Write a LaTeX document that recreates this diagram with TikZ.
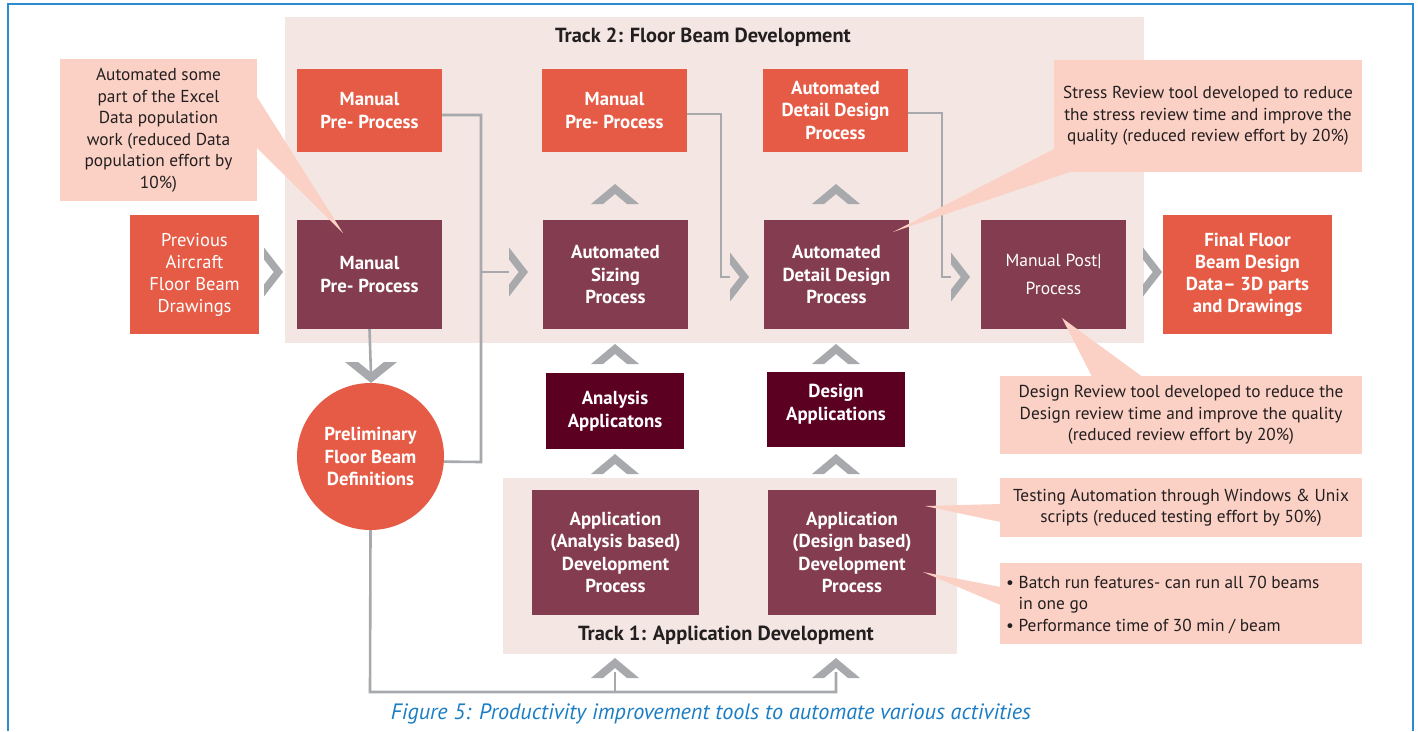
\documentclass[tikz,border=0pt]{standalone}
\usepackage{fontspec}
\setmainfont{PT Sans}
\definecolor{orng}{HTML}{E55B45}
\definecolor{maroon}{HTML}{843D50}
\definecolor{darkred}{HTML}{5C0022}
\definecolor{trackbg}{HTML}{F4E6E3}
\definecolor{callbg}{HTML}{FBD1C5}
\definecolor{cgray}{HTML}{A7A9AC}
\definecolor{txtdark}{HTML}{231F20}
\definecolor{capblue}{HTML}{1B7DC4}
\definecolor{frameblue}{HTML}{2A8BD0}
\tikzset{
  box/.style={inner sep=0pt, align=center, text=white, font=\fontsize{18.8}{22.5}\selectfont\bfseries},
  obox/.style={box, fill=orng},
  mbox/.style={box, fill=maroon},
  dbox/.style={box, fill=darkred},
  boxtext/.style={inner sep=0pt, align=center, text=white, font=\fontsize{18.8}{22.5}\selectfont\bfseries},
  callout/.style={fill=callbg, inner sep=0pt, align=center, text=txtdark, font=\fontsize{17.3}{21.5}\selectfont},
  tracktitle/.style={inner sep=0pt, text=txtdark, font=\fontsize{20.4}{22}\selectfont\bfseries},
  conn/.style={draw=cgray, line width=2.6pt},
  chevR/.pic={\fill[cgray] (0,-24.5) -- (19,0) -- (0,24.5) -- (0,12.5) -- (9.7,0) -- (0,-12.5) -- cycle;},
  chevU/.pic={\fill[cgray] (-24,20) -- (0,0) -- (24,20) -- (12,20) -- (0,10) -- (-12,20) -- cycle;},
  chevD/.pic={\fill[cgray] (-26,-21) -- (0,0) -- (26,-21) -- (13,-21) -- (0,-10.5) -- (-13,-21) -- cycle;}
}
\begin{document}
\begin{tikzpicture}[x=1pt,y=-1pt]
\useasboundingbox (0,0) rectangle (1418,731);
\fill[white] (0,0) rectangle (1418,731);
\draw[frameblue, line width=1.6pt] (8,731) -- (8,4) -- (1413,4) -- (1413,731);

% track backgrounds
\fill[trackbg] (285,17) rectangle (1144,343);
\fill[trackbg] (503,478) rectangle (957,654);
\node[tracktitle] (t2title) at (703,37) {Track 2: Floor Beam Development};
\node[tracktitle] (t1title) at (726,635) {Track 1: Application Development};

% nodes
\node[obox, minimum width=145, minimum height=83] (mp1) at (369.5,110.5) {Manual\\Pre- Process};
\node[obox, minimum width=145, minimum height=83] (mp2) at (614.5,110.5) {Manual\\Pre- Process};
\node[obox, minimum width=145, minimum height=83] (ad1) at (835.5,110.5) {Automated\\Detail Design\\Process};
\node[mbox, minimum width=145, minimum height=109] (mpm) at (369.5,274.5) {Manual\\Pre- Process};
\node[mbox, minimum width=145, minimum height=109] (asz) at (615.5,274.5) {Automated\\Sizing\\Process};
\node[mbox, minimum width=145, minimum height=109] (add) at (836.5,274.5) {Automated\\Detail Design\\Process};
\node[mbox, minimum width=145, minimum height=109, font=\fontsize{17.5}{28.5}\selectfont\mdseries] (mpo) at (1053.5,274.5) {Manual Post|\\Process};
\node[obox, minimum width=129, minimum height=119, font=\fontsize{18.5}{22}\selectfont\mdseries] (prev) at (194.5,274.5) {Previous\\Aircraft\\Floor Beam\\Drawings};
\node[obox, minimum width=169, minimum height=119, font=\fontsize{18.8}{22}\selectfont\bfseries] (fin) at (1247.5,274.5) {Final Floor\\Beam Design\\Data-- 3D parts\\and Drawings};
\node[obox, circle, minimum size=147] (circ) at (370.5,456.5) {Preliminary\\Floor Beam\\Definitions};
\node[dbox, minimum width=138, minimum height=76] (aap) at (615,411) {Analysis\\Applicatons};
\node[dbox, minimum width=138, minimum height=75] (dap) at (836,409.5) {};
\node[boxtext] (daptext) at (836,404) {Design\\Applications};
\node[mbox, minimum width=167, minimum height=125] (t1a) at (615.5,552.5) {Application\\(Analysis based)\\Development\\Process};
\node[mbox, minimum width=168, minimum height=125] (t1d) at (852,552.5) {Application\\(Design based)\\Development\\Process};

% chevron positions
\coordinate (rA) at (264,272);
\coordinate (rB) at (509,272);
\coordinate (rC) at (730,277);
\coordinate (rD) at (951,277);
\coordinate (rE) at (1143,272);
\coordinate (dA) at (371,383);
\coordinate (jA) at (481,115);
\coordinate (jB) at (481,462);
\coordinate (jC) at (721,114);
\coordinate (jD) at (942,113);
\coordinate (jE) at (370,692);
\coordinate (uA) at (615,672);
\coordinate (uB) at (836,672);

% connectors
\draw[conn] ([yshift=-4.5pt]mp1.east) -- (jA) -- (jB) -- (circ.-4);
\draw[conn] (jA |- rB) -- (rB);
\draw[conn] ([yshift=-3.5pt]mp2.east) -- (jC) |- (rC);
\draw[conn] ([yshift=-2.5pt]ad1.east) -- (jD) |- (rD);
\draw[conn] (mpm.south) -- ([yshift=8pt]dA);
\draw[conn] (circ.south) -- (jE) -| (uB);
\draw[conn] (jE -| uA) -- (uA);

% chevrons
\pic at (rA) {chevR};
\pic at (rB) {chevR};
\pic at (rC) {chevR};
\pic at (rD) {chevR};
\pic at (rE) {chevR};
\pic at (dA) {chevD};
\pic at (615,184) {chevU};
\pic at (836,184) {chevU};
\pic at (615,344) {chevU};
\pic at (836,344) {chevU};
\pic at (615,454) {chevU};
\pic at (836,454) {chevU};
\pic at (615,658) {chevU};
\pic at (836,658) {chevU};

% callouts
\node[callout, minimum width=197, minimum height=142] (c1) at (158.5,130) {Automated some\\part of the Excel\\Data population\\work (reduced Data\\population effort by\\10\%)};
\fill[callbg] (257,97) -- (343,233) -- (257,148) -- cycle;
\node[callout, minimum width=308, minimum height=112] (c2) at (1208,116) {Stress Review tool developed to reduce\\the stress review time and improve the\\quality (reduced review effort by 20\%)};
\fill[callbg] (1054,149) -- (893,232) -- (1070,172) -- cycle;
\node[callout, minimum width=362, minimum height=78] (c3) at (1181,415) {Design Review tool developed to reduce the\\Design review time and improve the quality\\(reduced review effort by 20\%)};
\fill[callbg] (1092,376.5) -- (1062,318) -- (1142,376.5) -- cycle;
\node[callout, minimum width=362, minimum height=59] (c4) at (1181,507.5) {Testing Automation through Windows \& Unix\\scripts (reduced testing effort by 50\%)};
\fill[callbg] (1000.5,504) -- (925,506) -- (1000.5,522) -- cycle;
\node[callout, minimum width=362, minimum height=81] (c5) at (1181,603.5) {};
\node[inner sep=0pt, align=left, anchor=west, text=txtdark, font=\fontsize{17.3}{21.5}\selectfont] (c5text) at (1006,605) {\textbullet\ Batch run features- can run all 70 beams\\\hphantom{\textbullet\ }in one go\\\textbullet\ Performance time of 30 min / beam};
\fill[callbg] (1000.5,587) -- (923,572) -- (1000.5,605) -- cycle;

% caption
\node[inner sep=0pt, text=capblue, font=\fontsize{22.2}{24}\selectfont\itshape] (cap) at (711,714) {Figure 5: Productivity improvement tools to automate various activities};
\end{tikzpicture}
\end{document}
